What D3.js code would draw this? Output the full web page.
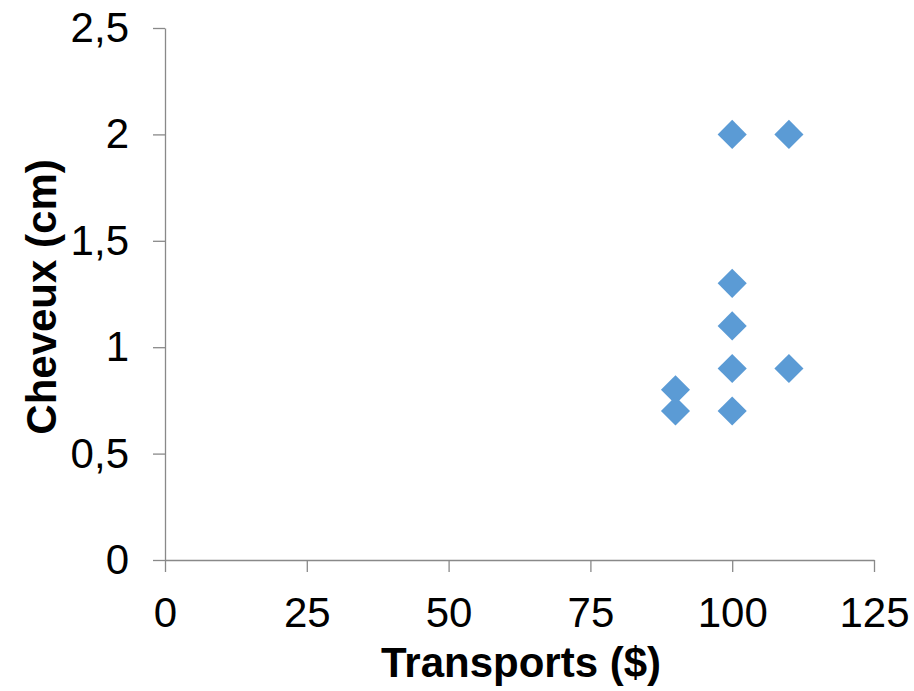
<!DOCTYPE html>
<html>
<head>
  <script src="https://d3js.org/d3.v7.min.js"></script>
  <style>
    body { margin: 0; background: #fff; }
    text { font-family: "Liberation Sans", Arial, sans-serif; }
    .axis path, .axis line { stroke: #898989; stroke-width: 1.3px; }
    .axis text { font-size: 42px; fill: #000; }
  </style>
</head>
<body>
  <svg width="914" height="691"></svg>
  <script>
    // values
    var transports = [100, 110, 100, 100, 100, 110, 90, 90, 100];
    var cheveux = [2, 2, 1.3, 1.1, 0.9, 0.9, 0.8, 0.7, 0.7];
    var xTicks = [0, 25, 50, 75, 100, 125];
    var yTicks = [0, 0.5, 1, 1.5, 2, 2.5];

    var data = transports.map(function(t, i) {
      return { x: t, y: cheveux[i] };
    });

    var svg = d3.select("svg"),
      margin = { top: 28, right: 40, bottom: 131, left: 165 },
      width = +svg.attr("width") - margin.left - margin.right,
      height = +svg.attr("height") - margin.top - margin.bottom;

    var x = d3.scaleLinear().domain([0, 125]).range([0, width]),
      y = d3.scaleLinear().domain([0, 2.5]).range([height, 0]);

    var fmt = function(d) { return String(d).replace(".", ","); };

    var g = svg.append("g")
      .attr("transform", "translate(" + margin.left + "," + margin.top + ")");

    g.append("g")
      .attr("class", "axis axis--x")
      .attr("transform", "translate(0," + height + ")")
      .call(d3.axisBottom(x).tickValues(xTicks).tickSize(12).tickSizeOuter(0).tickPadding(25).tickFormat(fmt));

    g.append("g")
      .attr("class", "axis axis--y")
      .call(d3.axisLeft(y).tickValues(yTicks).tickSize(12).tickSizeOuter(0).tickPadding(24).tickFormat(fmt));

    g.selectAll(".axis text").attr("font-family", "Liberation Sans, Arial, sans-serif");

    var diamond = d3.symbol().type(d3.symbolDiamond2).size(540);

    g.selectAll(".pt")
      .data(data)
      .enter().append("path")
      .attr("class", "pt")
      .attr("d", diamond)
      .attr("fill", "#5B9BD5")
      .attr("transform", function(d) {
        return "translate(" + x(d.x) + "," + y(d.y) + ")";
      });

    svg.append("text")
      .attr("x", 521)
      .attr("y", 677)
      .attr("text-anchor", "middle")
      .attr("font-size", "42px")
      .attr("font-weight", "bold")
      .text("Transports ($)");

    svg.append("text")
      .attr("transform", "translate(56,297) rotate(-90)")
      .attr("text-anchor", "middle")
      .attr("font-size", "42px")
      .attr("font-weight", "bold")
      .text("Cheveux (cm)");
  </script>
</body>
</html>
